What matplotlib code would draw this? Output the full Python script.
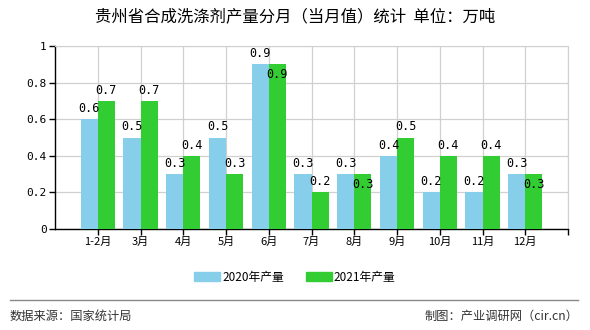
import matplotlib
matplotlib.use('Agg')
import matplotlib.pyplot as plt
from matplotlib.patches import Patch
from matplotlib.lines import Line2D
import numpy as np

plt.rcParams['font.family'] = ['Noto Sans CJK SC', 'DejaVu Sans']

months = ['1-2月', '3月', '4月', '5月', '6月', '7月', '8月', '9月', '10月', '11月', '12月']
prod_2020 = [0.6, 0.5, 0.3, 0.5, 0.9, 0.3, 0.3, 0.4, 0.2, 0.2, 0.3]
prod_2021 = [0.7, 0.7, 0.4, 0.3, 0.9, 0.2, 0.3, 0.5, 0.4, 0.4, 0.3]
yticks = [0, 0.2, 0.4, 0.6, 0.8, 1]

C20 = '#87CEEB'
C21 = '#32CD32'

fig = plt.figure(figsize=(5.9, 3.3), dpi=100)
ax = fig.add_axes([55 / 590, 1 - 229 / 330, 513 / 590, 183 / 330])

x = np.arange(1, len(months) + 1)
w = 0.4
ax.bar(x - w / 2, prod_2020, w, color=C20, zorder=3)
ax.bar(x + w / 2, prod_2021, w, color=C21, zorder=3)

num_font = dict(family='DejaVu Sans Mono', fontsize=8.5, color='black', zorder=5)
for xi, a, b in zip(x, prod_2020, prod_2021):
    ax.annotate(f'{a:g}', (xi - w / 2, a), xytext=(0, 3), textcoords='offset points',
                ha='center', va='bottom', **num_font)
    if a == b:
        # same height: second label drops inside the bar
        ax.annotate(f'{b:g}', (xi + w / 2, b), xytext=(0, -3), textcoords='offset points',
                    ha='center', va='top', **num_font)
    else:
        ax.annotate(f'{b:g}', (xi + w / 2, b), xytext=(0, 3), textcoords='offset points',
                    ha='center', va='bottom', **num_font)

ax.set_xlim(0, 12)
ax.set_ylim(0, 1)
ax.set_xticks(list(x) + [12])
ax.set_xticklabels(months + [''], fontsize=8)
ax.set_yticks(yticks)
ax.set_yticklabels([f'{v:g}' for v in yticks], fontsize=8, family='DejaVu Sans Mono')
ax.grid(True, color='#d0d0d0', linewidth=0.9, zorder=0)
for s in ['top', 'right']:
    ax.spines[s].set_color('#d0d0d0')
for s in ['left', 'bottom']:
    ax.spines[s].set_color('black')
    ax.spines[s].set_linewidth(1)
ax.tick_params(axis='both', length=4, width=1, color='black', pad=2)

fig.text(0.5, 1 - 17 / 330, '贵州省合成洗涤剂产量分月（当月值）统计  单位：万吨',
         ha='center', va='center', fontsize=11.8, color='black')

handles = [Patch(color=C20, label='2020年产量'), Patch(color=C21, label='2021年产量')]
fig.legend(handles=handles, loc='center', bbox_to_anchor=(0.5, 1 - 277 / 330),
           ncol=2, frameon=False, fontsize=8.5, handlelength=2.2, handleheight=0.9,
           handletextpad=0.2, columnspacing=1.8)

fig.add_artist(Line2D([10 / 590, 578 / 590], [1 - 300 / 330] * 2, color='#888888', linewidth=1))
fig.text(10 / 590, 1 - 316 / 330, '数据来源：国家统计局', ha='left', va='center',
         fontsize=8.8, color='#333333')
fig.text(578 / 590, 1 - 316 / 330, '制图：产业调研网（cir.cn）', ha='right', va='center',
         fontsize=8.8, color='#333333')

fig.savefig('out.png', dpi=100)
